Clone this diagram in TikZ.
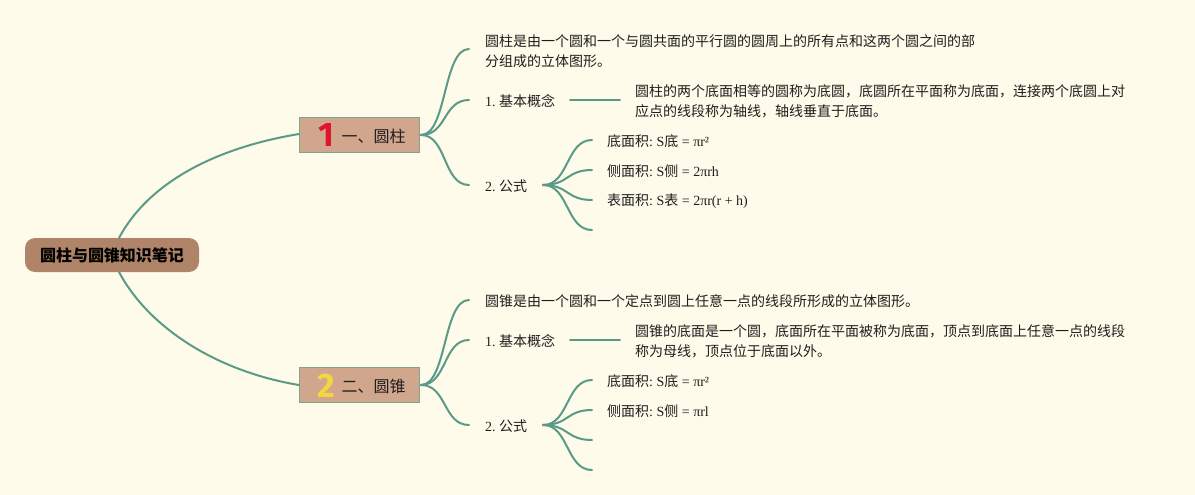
\documentclass[tikz,border=0pt]{standalone}
\usepackage{fontspec}
\setmainfont{Noto Sans CJK SC}
\newfontfamily\latf{Liberation Serif}
\newfontfamily\badgef{Fira Sans}
\newcommand{\lat}[1]{{\latf #1}}
\frenchspacing
\definecolor{bgc}{HTML}{FFFBEA}
\definecolor{linkc}{HTML}{5A9A88}
\definecolor{rootc}{HTML}{B08468}
\definecolor{topicc}{HTML}{D0A68C}
\definecolor{topicb}{HTML}{7FA592}
\definecolor{textc}{HTML}{1E1E1E}
\definecolor{badgea}{HTML}{E0142E}
\definecolor{badgeb}{HTML}{F5D63D}
\tikzset{
  x=1pt,y=-1pt,
  link/.style={draw=linkc,line width=2pt,line cap=round},
  rootbox/.style={rounded corners=10pt,fill=rootc,minimum width=174pt,minimum height=34pt,inner sep=0pt,text=black,font=\fontsize{16}{20}\selectfont\bfseries},
  topicbox/.style={draw=topicb,line width=1pt,fill=topicc,minimum width=120.5pt,minimum height=35pt,inner sep=0pt},
  topictext/.style={inner sep=0pt,anchor=west,text=textc,font=\fontsize{16}{20}\selectfont},
  badge/.style={inner sep=0pt,font=\badgef\bfseries\fontsize{34}{34}\selectfont},
  body/.style={inner sep=0pt,anchor=west,align=left,text=textc,font=\fontsize{14}{20}\selectfont},
}
\begin{document}
\begin{tikzpicture}
\fill[bgc] (0,0) rectangle (1195,495);
\useasboundingbox (0,0) rectangle (1195,495);
% nodes
\node[rootbox] (root) at (112,255) {圆柱与圆锥知识笔记};
\node[topicbox] (t1) at (359.5,135) {};
\node[topicbox] (t2) at (359.5,384.5) {};
\node[badge,text=badgea] (b1) at (326,135) {1};
\node[badge,text=badgeb] (b2) at (326,385.5) {2};
\node[topictext] (t1l) at (341.5,136) {一、圆柱};
\node[topictext] (t2l) at (341.5,386) {二、圆锥};
% upper branch text
\node[body] (a0) at (485,51) {圆柱是由一个圆和一个与圆共面的平行圆的圆周上的所有点和这两个圆之间的部\\分组成的立体图形。};
\node[body] (a1) at (485,101) {\lat{1. }基本概念};
\node[body] (a1d) at (635,101) {圆柱的两个底面相等的圆称为底圆，底圆所在平面称为底面，连接两个底圆上对\\应点的线段称为轴线，轴线垂直于底面。};
\node[body] (a2) at (485,186) {\lat{2. }公式};
\node[body] (f1) at (607,141) {底面积\lat{: S}底\lat{ = πr²}};
\node[body] (f2) at (607,171) {侧面积\lat{: S}侧\lat{ = 2πrh}};
\node[body] (f3) at (607,201) {表面积\lat{: S}表\lat{ = 2πr(r + h)}};
% lower branch text
\node[body] (c0) at (485,301) {圆锥是由一个圆和一个定点到圆上任意一点的线段所形成的立体图形。};
\node[body] (c1) at (485,341) {\lat{1. }基本概念};
\node[body] (c1d) at (635,341) {圆锥的底面是一个圆，底面所在平面被称为底面，顶点到底面上任意一点的线段\\称为母线，顶点位于底面以外。};
\node[body] (c2) at (485,426) {\lat{2. }公式};
\node[body] (g1) at (607,381) {底面积\lat{: S}底\lat{ = πr²}};
\node[body] (g2) at (607,411) {侧面积\lat{: S}侧\lat{ = πrl}};
% connector ends
\coordinate (rt) at (119,238);
\coordinate (rb) at (119,272);
\coordinate (t1w) at (299,134);
\coordinate (t2w) at (299,385);
\coordinate (t1e) at (421,135);
\coordinate (t2e) at (421,385);
\coordinate (e0) at (469,49);
\coordinate (e1) at (469,100);
\coordinate (e2) at (469,185);
\coordinate (e1s) at (570,100);
\coordinate (e1t) at (620,100);
\coordinate (e2s) at (543,185);
\coordinate (h1) at (592,140);
\coordinate (h2) at (592,170);
\coordinate (h3) at (592,200);
\coordinate (h4) at (592,230);
\coordinate (k0) at (469,300);
\coordinate (k1) at (469,340);
\coordinate (k2) at (469,425);
\coordinate (k1s) at (570,340);
\coordinate (k1t) at (620,340);
\coordinate (k2s) at (543,425);
\coordinate (m1) at (592,380);
\coordinate (m2) at (592,410);
\coordinate (m3) at (592,440);
\coordinate (m4) at (592,470);
% main connectors
\draw[link] (rt) .. controls (150,180) and (220,147) .. (t1w);
\draw[link] (rb) .. controls (150,330) and (220,372) .. (t2w);
% upper
\foreach \e in {e0,e1,e2}{
  \draw[link] (t1e) .. controls ([xshift=26pt]t1e) and ([xshift=-26pt]\e) .. (\e);
}
\draw[link] (e1s) -- (e1t);
\foreach \e in {h1,h2,h3,h4}{
  \draw[link] (e2s) .. controls ([xshift=26pt]e2s) and ([xshift=-26pt]\e) .. (\e);
}
% lower
\foreach \e in {k0,k1,k2}{
  \draw[link] (t2e) .. controls ([xshift=26pt]t2e) and ([xshift=-26pt]\e) .. (\e);
}
\draw[link] (k1s) -- (k1t);
\foreach \e in {m1,m2,m3,m4}{
  \draw[link] (k2s) .. controls ([xshift=26pt]k2s) and ([xshift=-26pt]\e) .. (\e);
}
\end{tikzpicture}
\end{document}
